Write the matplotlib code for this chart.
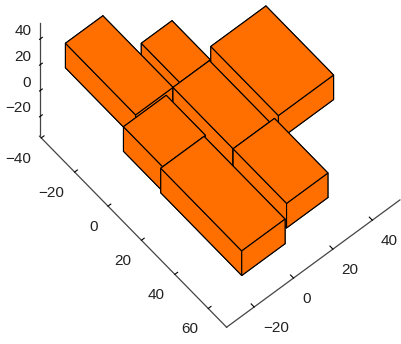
import matplotlib
matplotlib.use("Agg")
import matplotlib.pyplot as plt

plt.rcParams['font.family'] = ['Liberation Sans', 'DejaVu Sans']

# blocks, back to front
block_x = [-4.5, -23, -42, 0, 36, 1, 24.5]
block_y = [22, 2.4, -20, -1, -1, -27, -28]
block_dx = [40.5, 23, 42, 36, 32, 23.5, 48.5]
block_dy = [28, 15.6, 19, 18.5, 21, 21.7, 22]
block_z = [1, 1, 1, 1, 1, 1, 1]
block_dz = [19, 19, 19, 19, 19, 19, 19]

x_ticks = [-40, -20, 0, 20, 40, 60]
y_ticks = [-20, 0, 20, 40]
z_ticks = [-20, 0, 20, 40]

xlim = (-41, 71)
ylim = (-34, 54)
zlim = (-35, 53)

fig = plt.figure(figsize=(4.02, 3.44), dpi=100)
ax = fig.add_axes([0.035, 0.163, 1, 1], projection='3d', proj_type='ortho', computed_zorder=False)
ax.view_init(elev=60, azim=-40.3)

# draw each block on its own so they stack in the right order
for i in range(len(block_x)):
    ax.bar3d(block_x[i], block_y[i], block_z[i], block_dx[i], block_dy[i], block_dz[i],
             color='#ff6f00', edgecolor='black', linewidth=0.8, shade=False, zorder=i + 1)

ax.set_xlim(*xlim)
ax.set_ylim(*ylim)
ax.set_zlim(*zlim)
ax.set_box_aspect((xlim[1] - xlim[0], ylim[1] - ylim[0], zlim[1] - zlim[0]), zoom=1.22)
ax.set_xticks(x_ticks)
ax.set_yticks(y_ticks)
ax.set_zticks(z_ticks)
ax.grid(False)

for axis in (ax.xaxis, ax.yaxis, ax.zaxis):
    axis.set_pane_color((1, 1, 1, 0))
    axis.pane.set_edgecolor((1, 1, 1, 0))
    axis.line.set_color('#444444')
    axis.line.set_linewidth(0.9)
    axis._axinfo['tick']['color'] = '#444444'
    axis._axinfo['tick']['inward_factor'] = 0
    axis._axinfo['tick']['outward_factor'] = 0.2
    axis.set_tick_params(labelsize=11, labelcolor='#222222')

# z axis belongs on the left corner
ax.zaxis.set_ticks_position('lower')

# pad only moves labels along the tick, alignment does the rest
ax.xaxis.set_tick_params(pad=-0.5)
ax.yaxis.set_tick_params(pad=-2)
ax.zaxis.set_tick_params(pad=-5)
for label in ax.get_xticklabels():
    label.set(ha='right', va='top')
for label in ax.get_yticklabels():
    label.set(ha='left', va='top')
for label in ax.get_zticklabels():
    label.set(ha='right', va='bottom')

fig.savefig("out.png", dpi=100)
